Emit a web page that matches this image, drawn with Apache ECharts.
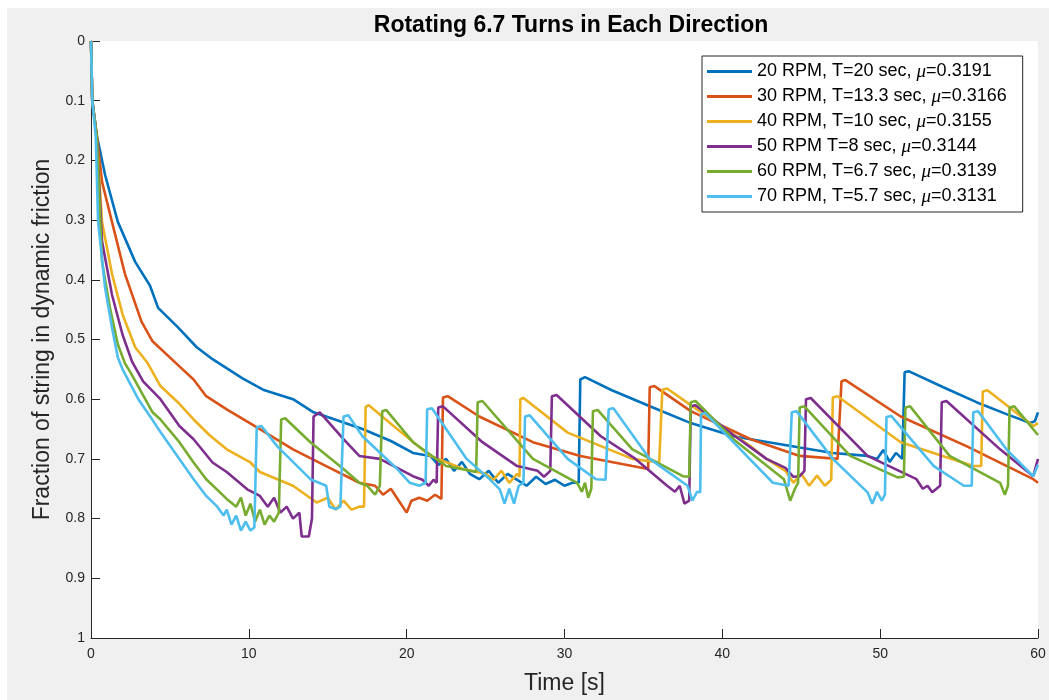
<!DOCTYPE html>
<html>
<head>
<meta charset="utf-8">
<script src="https://cdn.jsdelivr.net/npm/echarts@6/dist/echarts.min.js"></script>
<style>
html,body{margin:0;padding:0;background:#fff;}
#bg{position:absolute;left:7px;top:8px;width:1042px;height:692px;background:#f0f0f0;}
#chart{position:absolute;left:0;top:0;width:1049px;height:700px;}
</style>
</head>
<body>
<div id="bg"></div>
<div id="chart"></div>
<script>
const chartTitle = 'Rotating 6.7 Turns in Each Direction';
const xAxisTitle = 'Time [s]';
const yAxisTitle = 'Fraction of string in dynamic friction';
const xTicks = [0, 10, 20, 30, 40, 50, 60];
const yTicks = [0, 0.1, 0.2, 0.3, 0.4, 0.5, 0.6, 0.7, 0.8, 0.9, 1];

const seriesNames = [
  '20 RPM, T=20 sec, μ=0.3191',
  '30 RPM, T=13.3 sec, μ=0.3166',
  '40 RPM, T=10 sec, μ=0.3155',
  '50 RPM T=8 sec, μ=0.3144',
  '60 RPM, T=6.7 sec, μ=0.3139',
  '70 RPM, T=5.7 sec, μ=0.3131'
];
const seriesColors = ['#0072BD', '#D95319', '#EDB120', '#7E2F8E', '#77AC30', '#4DBEEE'];

const rpm20 = [[0,0],[0.08,0.1],[0.36,0.157],[0.89,0.224],[1.7,0.303],[2.8,0.37],[3.74,0.41],[4.25,0.447],[5.45,0.478],[6.7,0.513],[7.7,0.533],[9.6,0.565],[10.9,0.584],[12.8,0.60],[14.1,0.622],[14.9,0.629],[17.2,0.65],[19,0.67],[20.4,0.69],[21.5,0.695],[22,0.71],[22.5,0.70],[23,0.72],[23.5,0.705],[24,0.725],[24.6,0.734],[25.2,0.72],[25.8,0.74],[26.4,0.725],[27,0.735],[27.6,0.745],[28.2,0.73],[28.8,0.742],[29.4,0.735],[30,0.745],[30.5,0.74],[30.9,0.74],[31.0,0.567],[31.3,0.563],[33,0.585],[35.6,0.614],[38,0.64],[40.7,0.662],[41.8,0.667],[44.9,0.681],[47,0.69],[49.2,0.695],[49.8,0.70],[50.2,0.685],[50.6,0.705],[51.0,0.69],[51.4,0.70],[51.55,0.555],[51.8,0.553],[54,0.58],[56.1,0.605],[58,0.625],[59.5,0.64],[59.8,0.637],[60,0.622]];

const rpm30 = [[0,0],[0.08,0.1],[0.36,0.157],[0.7,0.236],[1.33,0.303],[2.15,0.39],[3.2,0.47],[3.9,0.503],[5.6,0.545],[6.5,0.567],[7.3,0.595],[8.6,0.617],[10.7,0.65],[12.8,0.684],[14.9,0.712],[17,0.74],[18,0.745],[18.5,0.76],[19,0.75],[19.5,0.77],[20,0.79],[20.3,0.77],[20.8,0.765],[21.3,0.77],[21.8,0.76],[22.2,0.767],[22.3,0.597],[22.6,0.595],[24.6,0.629],[28,0.672],[31,0.695],[34.3,0.712],[35.3,0.717],[35.4,0.58],[35.7,0.578],[38,0.62],[41.8,0.667],[44.9,0.695],[47.3,0.70],[47.55,0.57],[47.8,0.568],[51.3,0.629],[55.5,0.679],[59.7,0.734],[60,0.74]];

const rpm40 = [[0,0],[0.08,0.1],[0.36,0.16],[0.7,0.303],[1.33,0.39],[2,0.458],[2.8,0.513],[3.55,0.538],[4.4,0.578],[5.5,0.605],[6.5,0.634],[7.5,0.66],[8.6,0.684],[10.1,0.706],[10.7,0.722],[12.8,0.745],[14.3,0.773],[15,0.765],[15.5,0.785],[16,0.77],[16.5,0.785],[17.0,0.78],[17.3,0.78],[17.4,0.613],[17.6,0.61],[19.4,0.65],[21.5,0.695],[23.6,0.717],[25,0.725],[25.5,0.735],[26,0.72],[26.5,0.74],[27.0,0.725],[27.15,0.73],[27.2,0.60],[27.4,0.598],[30.2,0.656],[34.3,0.70],[36.0,0.706],[36.2,0.584],[36.5,0.582],[38,0.61],[41.8,0.679],[42.8,0.70],[44,0.72],[44.5,0.74],[45,0.725],[45.5,0.745],[46,0.728],[46.5,0.745],[46.9,0.735],[47.0,0.597],[47.3,0.595],[51.3,0.672],[55.9,0.712],[56.4,0.712],[56.5,0.587],[56.8,0.585],[59.7,0.645],[60,0.64]];

const rpm50 = [[0,0],[0.08,0.1],[0.36,0.16],[0.7,0.336],[1.33,0.425],[2,0.492],[2.6,0.537],[3.3,0.57],[4.4,0.60],[5.6,0.645],[6.5,0.667],[7.7,0.706],[8.6,0.722],[9.9,0.751],[10.7,0.762],[11.2,0.78],[11.6,0.765],[12.0,0.79],[12.4,0.78],[12.8,0.80],[13.2,0.79],[13.35,0.83],[13.8,0.83],[14.0,0.8],[14.1,0.629],[14.5,0.622],[16,0.667],[17,0.695],[18.3,0.70],[20.4,0.729],[21,0.735],[21.4,0.745],[21.7,0.735],[21.9,0.74],[22.0,0.614],[22.3,0.612],[24.8,0.672],[27,0.712],[28.3,0.72],[28.7,0.73],[29.1,0.72],[29.2,0.595],[29.5,0.593],[32.3,0.662],[34.5,0.70],[36.5,0.745],[37,0.755],[37.3,0.745],[37.6,0.775],[37.9,0.77],[38.0,0.612],[38.3,0.61],[40.7,0.66],[42.8,0.70],[44.0,0.715],[44.5,0.73],[44.9,0.729],[45.2,0.72],[45.3,0.60],[45.6,0.598],[49.2,0.695],[52.3,0.734],[52.7,0.75],[53.0,0.745],[53.3,0.756],[53.8,0.745],[53.9,0.605],[54.2,0.603],[57.6,0.684],[59.7,0.729],[60,0.70]];

const rpm60 = [[0,0],[0.08,0.1],[0.36,0.16],[0.7,0.37],[1.2,0.447],[1.7,0.508],[2.15,0.54],[2.5,0.555],[3.9,0.622],[4.4,0.634],[5.6,0.672],[6.5,0.706],[7.3,0.734],[8.6,0.767],[9.2,0.78],[9.5,0.765],[9.8,0.795],[10.1,0.775],[10.4,0.805],[10.7,0.785],[11.0,0.81],[11.3,0.795],[11.6,0.805],[11.9,0.79],[12.05,0.634],[12.3,0.632],[13.9,0.672],[16,0.717],[17,0.74],[17.5,0.745],[18.0,0.76],[18.3,0.745],[18.45,0.62],[18.7,0.618],[20.4,0.672],[22.5,0.712],[24.4,0.722],[24.5,0.605],[24.8,0.603],[28,0.70],[30.8,0.74],[31.1,0.755],[31.3,0.74],[31.5,0.765],[31.7,0.75],[31.8,0.62],[32.1,0.618],[34.3,0.684],[37.5,0.729],[37.9,0.73],[38.0,0.605],[38.3,0.603],[40.7,0.667],[43.9,0.734],[44.3,0.77],[44.6,0.75],[44.8,0.74],[44.9,0.614],[45.2,0.612],[48.1,0.695],[51.1,0.731],[51.5,0.73],[51.6,0.614],[51.9,0.612],[54.4,0.695],[57.6,0.74],[57.9,0.76],[58.1,0.745],[58.2,0.614],[58.5,0.612],[60,0.66]];

const rpm70 = [[0,0],[0.08,0.1],[0.3,0.16],[0.45,0.303],[0.89,0.413],[1.33,0.48],[1.7,0.53],[2.0,0.55],[3.0,0.60],[3.9,0.635],[4.4,0.655],[5.6,0.70],[6.5,0.734],[7.3,0.762],[8.0,0.78],[8.4,0.795],[8.6,0.785],[8.9,0.81],[9.2,0.795],[9.5,0.82],[9.8,0.805],[10.1,0.82],[10.35,0.815],[10.5,0.647],[10.8,0.645],[11.8,0.679],[13.9,0.734],[14.9,0.745],[15.1,0.78],[15.5,0.784],[15.8,0.78],[16.0,0.629],[16.3,0.627],[17.2,0.662],[19.4,0.717],[20.2,0.74],[20.8,0.745],[21.2,0.74],[21.3,0.617],[21.6,0.615],[23.8,0.70],[25.3,0.735],[25.9,0.751],[26.2,0.775],[26.5,0.75],[26.8,0.775],[27.1,0.745],[27.4,0.74],[27.5,0.629],[27.8,0.627],[30.2,0.70],[32.0,0.734],[32.6,0.735],[32.8,0.617],[33.1,0.615],[35.4,0.70],[37.8,0.745],[38.1,0.77],[38.4,0.755],[38.6,0.756],[38.65,0.625],[38.9,0.623],[40.7,0.672],[43.2,0.74],[44.2,0.745],[44.4,0.622],[44.7,0.62],[47,0.70],[49.2,0.756],[49.5,0.775],[49.8,0.755],[50.1,0.77],[50.3,0.76],[50.4,0.63],[50.7,0.628],[53.4,0.712],[55.3,0.745],[55.8,0.745],[55.9,0.622],[56.2,0.62],[58,0.684],[59.7,0.729],[60,0.71]];

const seriesData = [rpm20, rpm30, rpm40, rpm50, rpm60, rpm70];

const chart = echarts.init(document.getElementById('chart'), null, {renderer: 'canvas'});
const font = 'Liberation Sans, Arial, Helvetica, sans-serif';
const option = {
  animation: false,
  backgroundColor: 'transparent',
  title: {
    text: chartTitle,
    left: 566, top: 9, textAlign: 'center',
    textStyle: {fontFamily: font, fontSize: 23, fontWeight: 'bold', color: '#000'}
  },
  grid: {left: 91, right: 11, top: 41, bottom: 62, show: true, backgroundColor: '#fff', borderWidth: 0},
  legend: {
    orient: 'vertical', left: 702, top: 56,
    backgroundColor: '#fff', borderColor: '#262626', borderWidth: 1,
    padding: [6, 16, 6, 5], itemGap: 6, itemWidth: 45, itemHeight: 3,
    icon: 'rect',
    data: seriesNames,
    formatter: function (n) { return n.replace('μ', '{i|μ}'); },
    textStyle: {fontFamily: font, fontSize: 18, color: '#000', lineHeight: 18,
      rich: {i: {fontFamily: 'Liberation Serif, serif', fontStyle: 'italic', fontSize: 19, color: '#000'}}}
  },
  xAxis: {
    type: 'value', position: 'bottom', min: xTicks[0], max: xTicks[xTicks.length - 1], interval: 10,
    name: xAxisTitle, nameLocation: 'middle', nameGap: 34,
    nameTextStyle: {fontFamily: font, fontSize: 23, color: '#262626'},
    axisLine: {show: true, onZero: false, lineStyle: {color: '#262626', width: 1}},
    axisTick: {show: true, inside: true, length: 9, lineStyle: {color: '#262626'}},
    axisLabel: {fontFamily: font, fontSize: 14, color: '#262626', margin: 9},
    splitLine: {show: false}
  },
  yAxis: {
    type: 'value', position: 'left', inverse: true, min: yTicks[0], max: yTicks[yTicks.length - 1], interval: 0.1,
    name: yAxisTitle, nameLocation: 'middle', nameGap: 37, nameRotate: 90,
    nameTextStyle: {fontFamily: font, fontSize: 23, color: '#262626'},
    axisLine: {show: true, onZero: false, lineStyle: {color: '#262626', width: 1}},
    axisTick: {show: true, inside: true, length: 9, lineStyle: {color: '#262626'}},
    axisLabel: {fontFamily: font, fontSize: 14, color: '#262626', margin: 6,
      formatter: function (v) { return String(Math.round(v * 10) / 10); }},
    splitLine: {show: false}
  },
  series: seriesNames.map(function (n, i) {
    return {
      name: n, type: 'line', data: seriesData[i], showSymbol: false, symbol: 'none',
      color: seriesColors[i],
      lineStyle: {width: 2.6, color: seriesColors[i]},
      z: 2 + i
    };
  })
};
chart.setOption(option);
</script>
</body>
</html>
